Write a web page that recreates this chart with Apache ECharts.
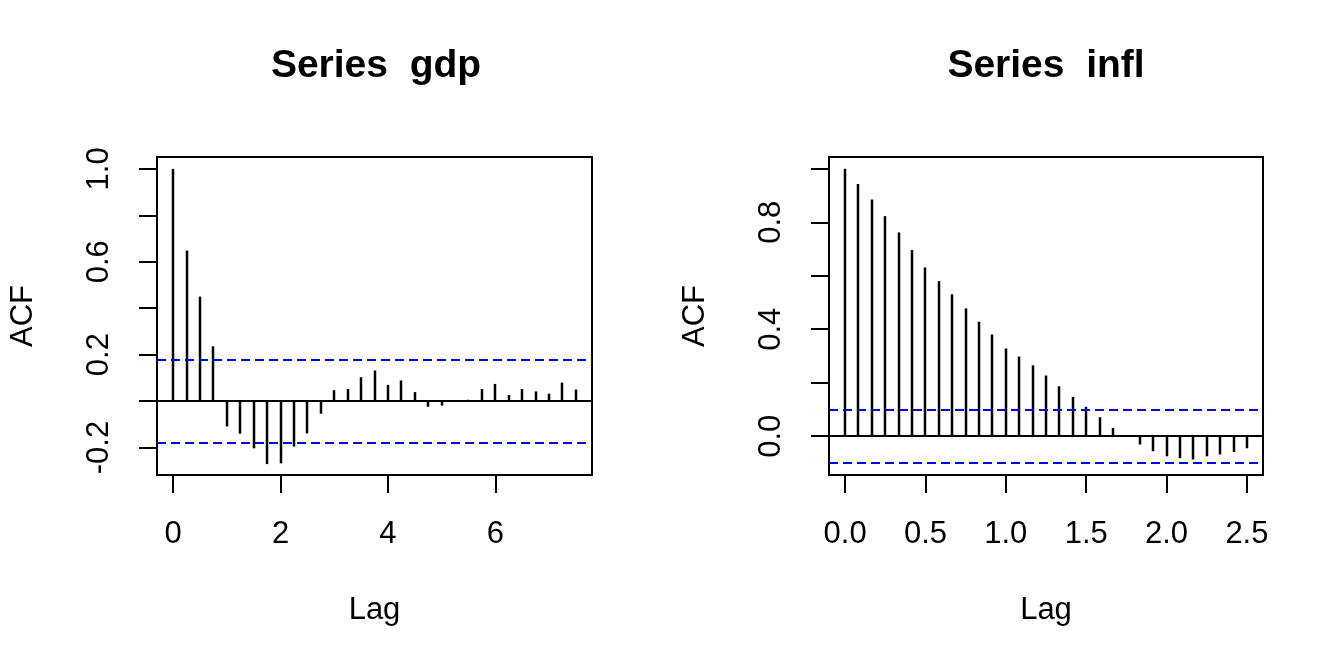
<!DOCTYPE html>
<html>
<head>
<meta charset="utf-8">
<script src="https://cdn.jsdelivr.net/npm/echarts@6/dist/echarts.min.js"></script>
<style>
html,body{margin:0;padding:0;background:#fff;}
#chart{width:1344px;height:672px;}
</style>
</head>
<body>
<div id="chart"></div>
<script>
// ---- data ----
const gdpTitle = 'Series  gdp';
const inflTitle = 'Series  infl';
// gdp: quarterly lags (in years)
const gdpLags = [0,0.25,0.5,0.75,1,1.25,1.5,1.75,2,2.25,2.5,2.75,3,3.25,3.5,3.75,4,4.25,4.5,4.75,5,5.25,5.5,5.75,6,6.25,6.5,6.75,7,7.25,7.5];
const gdpAcf = [1.0,0.648,0.450,0.236,-0.109,-0.140,-0.203,-0.271,-0.268,-0.196,-0.139,-0.054,0.047,0.052,0.103,0.132,0.070,0.089,0.039,-0.024,-0.019,-0.001,0.006,0.052,0.074,0.026,0.052,0.042,0.032,0.080,0.050];
const gdpConf = 0.176;
// infl: monthly lags (in years)
const inflLags = [0,1/12,2/12,3/12,4/12,5/12,6/12,7/12,8/12,9/12,10/12,11/12,1,13/12,14/12,15/12,16/12,17/12,18/12,19/12,20/12,21/12,22/12,23/12,24/12,25/12,26/12,27/12,28/12,29/12,30/12];
const inflAcf = [1.0,0.943,0.885,0.823,0.762,0.696,0.631,0.580,0.531,0.478,0.428,0.380,0.328,0.298,0.265,0.227,0.187,0.147,0.110,0.071,0.031,0.002,-0.031,-0.056,-0.075,-0.082,-0.087,-0.075,-0.068,-0.059,-0.045];
const inflConf = 0.102;
// tick values
const gdpXTicks = [0,2,4,6];
const gdpYTicks = [-0.2,0,0.2,0.4,0.6,0.8,1.0];
const gdpYLabels = [-0.2,0.2,0.6,1.0];
const inflXTicks = [0,0.5,1,1.5,2,2.5];
const inflYTicks = [0,0.2,0.4,0.6,0.8,1.0];
const inflYLabels = [0,0.4,0.8];

// ---- chart ----
const FONT = '"Liberation Sans", Arial, Helvetica, sans-serif';
const FS = 31;
const chart = echarts.init(document.getElementById('chart'), null, {renderer:'canvas'});

function xAxisCfg(grid, min, max, ticks, fmt){
  return {
    type:'value', gridIndex:grid, min:min, max:max, position:'bottom',
    axisLine:{show:false, onZero:false}, splitLine:{show:false},
    axisTick:{show:true, inside:false, length:18, customValues:ticks, lineStyle:{color:'#000', width:2}},
    axisLabel:{show:true, customValues:ticks, margin:44, color:'#000', fontSize:FS, fontFamily:FONT, formatter:fmt},
    name:'Lag', nameLocation:'middle', nameGap:120,
    nameTextStyle:{color:'#000', fontSize:FS, fontFamily:FONT}
  };
}
function yAxisCfg(grid, min, max, ticks, labels){
  return {
    type:'value', gridIndex:grid, min:min, max:max, position:'left',
    axisLine:{show:false, onZero:false}, splitLine:{show:false},
    axisTick:{show:true, inside:false, length:18, customValues:ticks, lineStyle:{color:'#000', width:2}},
    axisLabel:{show:true, customValues:labels, rotate:90, margin:42, color:'#000', fontSize:FS, fontFamily:FONT,
      formatter:v => Number(v).toFixed(1)},
    name:'ACF', nameLocation:'middle', nameGap:118, nameRotate:90,
    nameTextStyle:{color:'#000', fontSize:FS, fontFamily:FONT}
  };
}
function stems(idx, lags, vals, conf){
  return {
    type:'custom', xAxisIndex:idx, yAxisIndex:idx,
    data: lags.map((l,i)=>[l, vals[i]]),
    encode:{x:0, y:1},
    clip:true, silent:true,
    renderItem:(params, api)=>{
      const p0 = api.coord([api.value(0), 0]);
      const p1 = api.coord([api.value(0), api.value(1)]);
      const x = Math.round(p0[0]);
      return {type:'line', shape:{x1:x, y1:p0[1], x2:x, y2:p1[1]},
        style:{stroke:'#000', lineWidth:2.5}};
    },
    markLine:{
      silent:true, symbol:'none', label:{show:false}, animation:false,
      data:[
        {yAxis:0, lineStyle:{color:'#000', width:2, type:'solid'}},
        {yAxis:conf, lineStyle:{color:'#0000ff', width:2, type:[9,5]}},
        {yAxis:-conf, lineStyle:{color:'#0000ff', width:2, type:[9,5]}}
      ]
    }
  };
}

const option = {
  animation:false,
  backgroundColor:'#fff',
  grid:[
    {left:157, top:157, width:435, height:318, show:true, borderColor:'#000', borderWidth:2, backgroundColor:'transparent'},
    {left:829, top:157, width:434, height:318, show:true, borderColor:'#000', borderWidth:2, backgroundColor:'transparent'}
  ],
  xAxis:[
    xAxisCfg(0, -0.3, 7.8, gdpXTicks, v => String(Math.round(v))),
    xAxisCfg(1, -0.1, 2.6, inflXTicks, v => Number(v).toFixed(1))
  ],
  yAxis:[
    yAxisCfg(0, -0.318, 1.051, gdpYTicks, gdpYLabels),
    yAxisCfg(1, -0.145, 1.044, inflYTicks, inflYLabels)
  ],
  series:[
    stems(0, gdpLags, gdpAcf, gdpConf),
    stems(1, inflLags, inflAcf, inflConf)
  ],
  graphic:[
    {type:'text', x:376, y:66, style:{text:gdpTitle, fill:'#000', font:'bold 39px ' + FONT, textAlign:'center', textVerticalAlign:'middle'}},
    {type:'text', x:1046, y:66, style:{text:inflTitle, fill:'#000', font:'bold 39px ' + FONT, textAlign:'center', textVerticalAlign:'middle'}}
  ]
};
chart.setOption(option);
</script>
</body>
</html>
